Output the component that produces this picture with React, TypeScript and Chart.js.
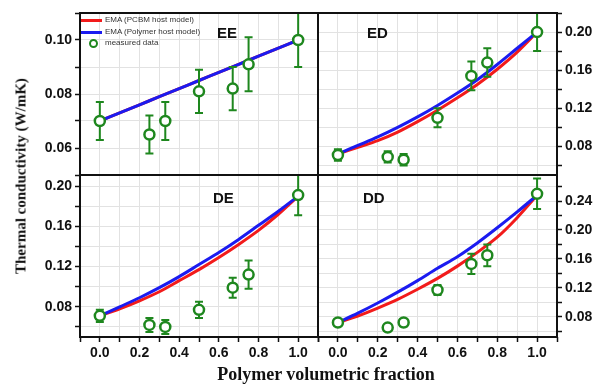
import React, { useEffect, useRef } from "react";
import { Chart, registerables } from "chart.js";
Chart.register(...registerables);

// ---------- data ----------
const xMeasured = [0, 0.25, 0.33, 0.5, 0.67, 0.75, 1.0];
const xModel = [0, 0.1, 0.2, 0.3, 0.4, 0.5, 0.6, 0.7, 0.8, 0.9, 1.0];

const eeMeasured = [0.070, 0.065, 0.070, 0.081, 0.082, 0.091, 0.100];
const eeError = [0.007, 0.007, 0.007, 0.008, 0.008, 0.010, 0.010];
const eePcbm = [0.070, 0.073, 0.076, 0.079, 0.082, 0.085, 0.088, 0.091, 0.094, 0.097, 0.100];
const eePolymer = [0.070, 0.073, 0.076, 0.079, 0.082, 0.085, 0.088, 0.091, 0.094, 0.097, 0.100];

const edMeasured = [0.071, 0.069, 0.066, 0.110, 0.154, 0.168, 0.200];
const edError = [0.006, 0.006, 0.006, 0.010, 0.015, 0.015, 0.020];
const edPcbm = [0.072, 0.079, 0.086, 0.095, 0.106, 0.118, 0.131, 0.145, 0.161, 0.179, 0.200];
const edPolymer = [0.072, 0.081, 0.090, 0.100, 0.111, 0.123, 0.136, 0.150, 0.166, 0.183, 0.200];

const deMeasured = [0.071, 0.062, 0.060, 0.077, 0.099, 0.112, 0.191];
const deError = [0.006, 0.007, 0.007, 0.008, 0.010, 0.014, 0.020];
const dePcbm = [0.071, 0.078, 0.086, 0.095, 0.106, 0.117, 0.129, 0.142, 0.156, 0.172, 0.190];
const dePolymer = [0.071, 0.080, 0.089, 0.099, 0.110, 0.122, 0.134, 0.147, 0.161, 0.175, 0.190];

const ddMeasured = [0.072, 0.065, 0.072, 0.117, 0.153, 0.165, 0.250];
const ddError = [0.004, 0.003, 0.005, 0.007, 0.014, 0.015, 0.021];
const ddPcbm = [0.072, 0.081, 0.092, 0.104, 0.118, 0.133, 0.150, 0.169, 0.190, 0.217, 0.248];
const ddPolymer = [0.072, 0.085, 0.099, 0.114, 0.130, 0.147, 0.163, 0.182, 0.203, 0.225, 0.248];

const panelNames = ["EE", "ED", "DE", "DD"];
const legendLabels = ["EMA (PCBM host model)", "EMA (Polymer host model)", "measured data"];
const yAxisTitle = "Thermal conductivity (W/mK)";
const xAxisTitle = "Polymer volumetric fraction";

// ---------- styling ----------
const RED = "#f21b1b";
const BLUE = "#1b1bf0";
const GREEN = "#1e871e";
const GRID = "#e2e2e2";
const INK = "#111111";
const TICK_FONT = { family: "'Liberation Sans', Arial, sans-serif", size: 14, weight: "bold" as const };

function isMultiple(v: number, step: number) {
  const k = v / step;
  return Math.abs(k - Math.round(k)) < 1e-6;
}

type PanelSpec = {
  name: string;
  measured: number[];
  error: number[];
  pcbm: number[];
  polymer: number[];
  yMin: number;
  yMax: number;
  yStep: number;
  yLabelStep: number;
  yPos: "left" | "right";
  showX: boolean;
  left: number;
  top: number;
  width: number;
  height: number;
  pad: { left: number; right: number; top: number; bottom: number };
  yWidth: number;
  xHeight: number;
};

const framePlugin = {
  id: "frame",
  afterDraw(chart: any) {
    const { left, top, right, bottom } = chart.chartArea;
    const ctx = chart.ctx;
    ctx.save();
    ctx.strokeStyle = INK;
    ctx.lineWidth = 2;
    ctx.strokeRect(left, top, right - left, bottom - top);
    ctx.restore();
  },
};

function zeroPadding(s: any) {
  s.paddingTop = 0;
  s.paddingBottom = 0;
  s.paddingLeft = 0;
  s.paddingRight = 0;
}

function Panel({ spec }: { spec: PanelSpec }) {
  const ref = useRef<HTMLCanvasElement | null>(null);
  useEffect(() => {
    const canvas = ref.current!;
    const errorPlugin = {
      id: "errorbars",
      afterDatasetDraw(chart: any, args: any) {
        if (args.index !== 1) return;
        const xs = chart.scales.x;
        const ys = chart.scales.y;
        const ctx = chart.ctx;
        const ca = chart.chartArea;
        ctx.save();
        ctx.beginPath();
        ctx.rect(ca.left, ca.top, ca.right - ca.left, ca.bottom - ca.top);
        ctx.clip();
        ctx.strokeStyle = GREEN;
        ctx.lineWidth = 2;
        spec.measured.forEach((v, i) => {
          const px = xs.getPixelForValue(xMeasured[i]);
          const yt = ys.getPixelForValue(v + spec.error[i]);
          const yb = ys.getPixelForValue(v - spec.error[i]);
          ctx.beginPath();
          ctx.moveTo(px, yt);
          ctx.lineTo(px, yb);
          ctx.moveTo(px - 4, yt);
          ctx.lineTo(px + 4, yt);
          ctx.moveTo(px - 4, yb);
          ctx.lineTo(px + 4, yb);
          ctx.stroke();
        });
        ctx.restore();
      },
    };
    const chart = new Chart(canvas, {
      type: "scatter",
      data: {
        datasets: [
          {
            label: legendLabels[2],
            data: spec.measured.map((y, i) => ({ x: xMeasured[i], y })),
            showLine: false,
            pointRadius: 5,
            pointBorderWidth: 2.5,
            pointBackgroundColor: "#ffffff",
            pointBorderColor: GREEN,
            order: 0,
          },
          {
            label: legendLabels[1],
            data: spec.polymer.map((y, i) => ({ x: xModel[i], y })),
            showLine: true,
            borderColor: BLUE,
            borderWidth: 3,
            pointRadius: 0,
            tension: 0.3,
            order: 1,
          },
          {
            label: legendLabels[0],
            data: spec.pcbm.map((y, i) => ({ x: xModel[i], y })),
            showLine: true,
            borderColor: RED,
            borderWidth: 3,
            pointRadius: 0,
            tension: 0.3,
            order: 2,
          },
        ],
      },
      options: {
        animation: false,
        responsive: false,
        maintainAspectRatio: false,
        layout: { padding: spec.pad, autoPadding: false },
        plugins: { legend: { display: false }, tooltip: { enabled: false } },
        scales: {
          x: {
            type: "linear",
            min: -0.1,
            max: 1.1,
            position: "bottom",
            afterFit: (s: any) => {
              s.height = spec.xHeight;
              zeroPadding(s);
            },
            border: { display: false },
            grid: {
              color: GRID,
              lineWidth: 1,
              drawTicks: spec.showX,
              tickLength: 5,
              tickColor: INK,
              tickWidth: 1.5,
            },
            ticks: {
              display: spec.showX,
              stepSize: 0.1,
              includeBounds: false,
              autoSkip: false,
              maxRotation: 0,
              padding: 3,
              color: INK,
              font: TICK_FONT,
              callback: (v: any) => {
                const n = Number(v);
                return n > -0.01 && n < 1.01 && isMultiple(n, 0.2) ? n.toFixed(1) : "";
              },
            },
          },
          y: {
            type: "linear",
            min: spec.yMin,
            max: spec.yMax,
            position: spec.yPos,
            afterFit: (s: any) => {
              s.width = spec.yWidth;
              zeroPadding(s);
            },
            border: { display: false },
            grid: {
              color: GRID,
              lineWidth: 1,
              drawTicks: true,
              tickLength: 5,
              tickColor: INK,
              tickWidth: 1.5,
            },
            ticks: {
              stepSize: spec.yStep,
              includeBounds: false,
              autoSkip: false,
              padding: 3,
              color: INK,
              font: TICK_FONT,
              callback: (v: any) => {
                const n = Number(v);
                return isMultiple(n, spec.yLabelStep) && n > spec.yMin + 1e-6 && n < spec.yMax - 1e-6
                  ? n.toFixed(2)
                  : "";
              },
            },
          },
        },
      },
      plugins: [errorPlugin, framePlugin],
    });
    return () => chart.destroy();
  }, [spec]);
  return (
    <canvas
      ref={ref}
      width={spec.width}
      height={spec.height}
      style={{
        position: "absolute",
        left: spec.left,
        top: spec.top,
        width: spec.width,
        height: spec.height,
      }}
    />
  );
}

const specs: PanelSpec[] = [
  {
    name: panelNames[0], measured: eeMeasured, error: eeError, pcbm: eePcbm, polymer: eePolymer,
    yMin: 0.05, yMax: 0.11, yStep: 0.01, yLabelStep: 0.02, yPos: "left", showX: false,
    left: 0, top: 0, width: 320, height: 177,
    pad: { left: 0, right: 2, top: 13, bottom: 2 }, yWidth: 80, xHeight: 0,
  },
  {
    name: panelNames[1], measured: edMeasured, error: edError, pcbm: edPcbm, polymer: edPolymer,
    yMin: 0.05, yMax: 0.22, yStep: 0.02, yLabelStep: 0.04, yPos: "right", showX: false,
    left: 316, top: 0, width: 279, height: 177,
    pad: { left: 2, right: 0, top: 13, bottom: 2 }, yWidth: 38, xHeight: 0,
  },
  {
    name: panelNames[2], measured: deMeasured, error: deError, pcbm: dePcbm, polymer: dePolymer,
    yMin: 0.05, yMax: 0.211, yStep: 0.02, yLabelStep: 0.04, yPos: "left", showX: true,
    left: 0, top: 173, width: 320, height: 200,
    pad: { left: 0, right: 2, top: 2, bottom: 0 }, yWidth: 80, xHeight: 36,
  },
  {
    name: panelNames[3], measured: ddMeasured, error: ddError, pcbm: ddPcbm, polymer: ddPolymer,
    yMin: 0.052, yMax: 0.276, yStep: 0.02, yLabelStep: 0.04, yPos: "right", showX: true,
    left: 316, top: 173, width: 279, height: 200,
    pad: { left: 2, right: 0, top: 2, bottom: 0 }, yWidth: 38, xHeight: 36,
  },
];

const labelPos = [
  { left: 217, top: 32 },
  { left: 367, top: 32 },
  { left: 213, top: 197 },
  { left: 363, top: 197 },
];

export default function App() {
  const sans = "'Liberation Sans', Arial, sans-serif";
  const serif = "'Liberation Serif', 'Times New Roman', serif";
  return (
    <div
      style={{
        position: "absolute",
        left: 0,
        top: 0,
        width: 595,
        height: 392,
        background: "#ffffff",
        overflow: "hidden",
      }}
    >
      {specs.map((s) => (
        <Panel key={s.name} spec={s} />
      ))}
      {specs.map((s, i) => (
        <div
          key={"lbl" + s.name}
          style={{
            position: "absolute",
            left: labelPos[i].left,
            top: labelPos[i].top,
            transform: "translateY(-50%)",
            font: `bold 15px ${sans}`,
            color: INK,
            lineHeight: 1,
          }}
        >
          {s.name}
        </div>
      ))}
      {/* legend */}
      <div style={{ position: "absolute", left: 81, top: 19, width: 21, height: 3, background: RED }} />
      <div style={{ position: "absolute", left: 105, top: 20, transform: "translateY(-50%)", font: `8px ${sans}`, color: "#333", lineHeight: 1, whiteSpace: "nowrap" }}>
        {legendLabels[0]}
      </div>
      <div style={{ position: "absolute", left: 81, top: 31, width: 21, height: 3, background: BLUE }} />
      <div style={{ position: "absolute", left: 105, top: 32, transform: "translateY(-50%)", font: `8px ${sans}`, color: "#333", lineHeight: 1, whiteSpace: "nowrap" }}>
        {legendLabels[1]}
      </div>
      <div style={{ position: "absolute", left: 89, top: 39, width: 5, height: 5, border: `2px solid ${GREEN}`, borderRadius: "50%", background: "#fff" }} />
      <div style={{ position: "absolute", left: 105, top: 43, transform: "translateY(-50%)", font: `8px ${sans}`, color: "#333", lineHeight: 1, whiteSpace: "nowrap" }}>
        {legendLabels[2]}
      </div>
      {/* axis titles */}
      <div
        style={{
          position: "absolute",
          left: 21,
          top: 176,
          transform: "translate(-50%, -50%) rotate(-90deg)",
          font: `bold 15px ${serif}`,
          color: INK,
          whiteSpace: "nowrap",
          lineHeight: 1,
        }}
      >
        {yAxisTitle}
      </div>
      <div
        style={{
          position: "absolute",
          left: 326,
          top: 374,
          transform: "translate(-50%, -50%)",
          font: `bold 18px ${serif}`,
          color: INK,
          whiteSpace: "nowrap",
          lineHeight: 1,
        }}
      >
        {xAxisTitle}
      </div>
    </div>
  );
}
